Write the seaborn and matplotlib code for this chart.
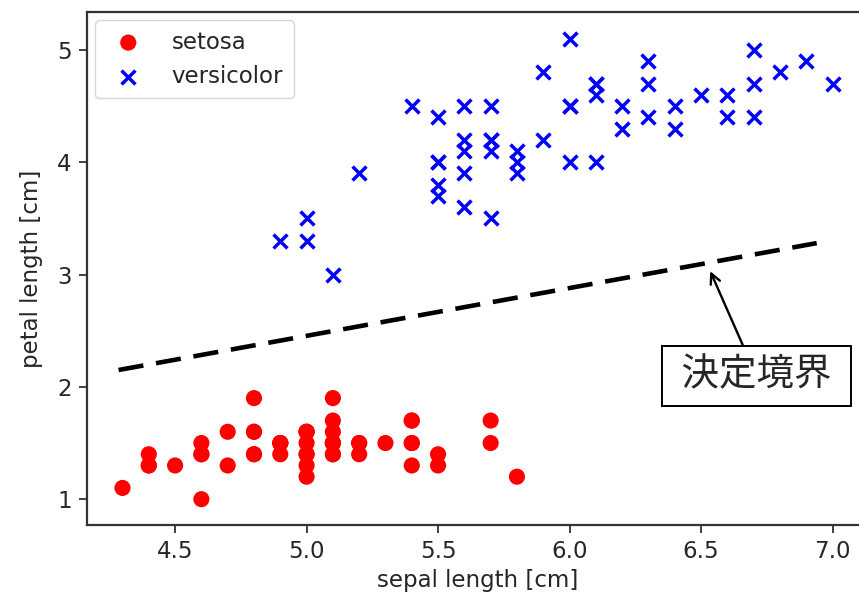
import matplotlib
matplotlib.use("Agg")
import matplotlib.pyplot as plt
import seaborn as sns
import pandas as pd

sns.set_style("ticks")
plt.rcParams['font.family'] = ['DejaVu Sans', 'Noto Sans CJK JP']

setosa_sepal = [5.1, 4.9, 4.7, 4.6, 5.0, 5.4, 4.6, 5.0, 4.4, 4.9, 5.4, 4.8, 4.8, 4.3, 5.8, 5.7, 5.4, 5.1, 5.7, 5.1,
                5.4, 5.1, 4.6, 5.1, 4.8, 5.0, 5.0, 5.2, 5.2, 4.7, 4.8, 5.4, 5.2, 5.5, 4.9, 5.0, 5.5, 4.9, 4.4, 5.1,
                5.0, 4.5, 4.4, 5.0, 5.1, 4.8, 5.1, 4.6, 5.3, 5.0]
setosa_petal = [1.4, 1.4, 1.3, 1.5, 1.4, 1.7, 1.4, 1.5, 1.4, 1.5, 1.5, 1.6, 1.4, 1.1, 1.2, 1.5, 1.3, 1.4, 1.7, 1.5,
                1.7, 1.5, 1.0, 1.7, 1.9, 1.6, 1.6, 1.5, 1.4, 1.6, 1.6, 1.5, 1.5, 1.4, 1.5, 1.2, 1.3, 1.5, 1.3, 1.5,
                1.3, 1.3, 1.3, 1.6, 1.9, 1.4, 1.6, 1.4, 1.5, 1.4]
versicolor_sepal = [7.0, 6.4, 6.9, 5.5, 6.5, 5.7, 6.3, 4.9, 6.6, 5.2, 5.0, 5.9, 6.0, 6.1, 5.6, 6.7, 5.6, 5.8, 6.2, 5.6,
                    5.9, 6.1, 6.3, 6.1, 6.4, 6.6, 6.8, 6.7, 6.0, 5.7, 5.5, 5.5, 5.8, 6.0, 5.4, 6.0, 6.7, 6.3, 5.6, 5.5,
                    5.5, 6.1, 5.8, 5.0, 5.6, 5.7, 5.7, 6.2, 5.1, 5.7]
versicolor_petal = [4.7, 4.5, 4.9, 4.0, 4.6, 4.5, 4.7, 3.3, 4.6, 3.9, 3.5, 4.2, 4.0, 4.7, 3.6, 4.4, 4.5, 4.1, 4.5, 3.9,
                    4.8, 4.0, 4.9, 4.7, 4.3, 4.4, 4.8, 5.0, 4.5, 3.5, 3.8, 3.7, 3.9, 5.1, 4.5, 4.5, 4.7, 4.4, 4.1, 4.0,
                    4.4, 4.6, 4.0, 3.3, 4.2, 4.2, 4.2, 4.3, 3.0, 4.1]
boundary_x = [4.285, 6.94]
boundary_y = [2.15, 3.28]
annot_xy = (6.535, 3.03)
annot_text_xy = (6.71, 2.10)

df_s = pd.DataFrame({"sepal": setosa_sepal, "petal": setosa_petal})
df_v = pd.DataFrame({"sepal": versicolor_sepal, "petal": versicolor_petal})
df_b = pd.DataFrame({"x": boundary_x, "y": boundary_y})

fig = plt.figure(figsize=(8.59, 6.0), dpi=100)
ax = fig.add_axes([87/859, 1 - 525/600, 781/859, (525 - 12.3)/600])

sns.scatterplot(data=df_s, x="sepal", y="petal", ax=ax, color="red", marker="o", s=135,
                edgecolor="none", label="setosa")
sns.scatterplot(data=df_v, x="sepal", y="petal", ax=ax, color="blue", marker="x", s=100,
                linewidth=2.5, label="versicolor")
sns.lineplot(data=df_b, x="x", y="y", ax=ax, color="black", linestyle=(0, (5.5, 2.8)), linewidth=3.3)

ax.set_xlim(4.165, 7.135)
ax.set_ylim(0.77, 5.335)
ax.set_xticks([4.5, 5.0, 5.5, 6.0, 6.5, 7.0])
ax.set_yticks([1, 2, 3, 4, 5])
ax.tick_params(labelsize=16.5, length=6, width=1.3, pad=5, colors="#333333", labelcolor="#262626")
for sp in ax.spines.values():
    sp.set_linewidth(1.6)
    sp.set_color("#333333")
    sp.set_visible(True)
ax.set_xlabel("sepal length [cm]", fontsize=16.5, color="#262626", labelpad=4)
ax.set_ylabel("petal length [cm]", fontsize=16.5, color="#262626", labelpad=10)

leg = ax.legend(loc="upper left", fontsize=16.5, markerscale=1.0, borderpad=0.45, handletextpad=0.9,
                borderaxespad=0.35)
for t in leg.get_texts():
    t.set_color("#262626")

ax.annotate("\u2009決定境界\u2009", xy=annot_xy, xytext=annot_text_xy, fontsize=27,
            family=["DejaVu Sans", "Noto Sans CJK JP"], ha="center", va="center",
            bbox=dict(boxstyle="square,pad=0.32", fc="white", ec="black", lw=1.4),
            arrowprops=dict(arrowstyle="->", color="black", lw=1.7, mutation_scale=18,
                            shrinkA=0, shrinkB=0))

fig.savefig("out.png", dpi=100)
